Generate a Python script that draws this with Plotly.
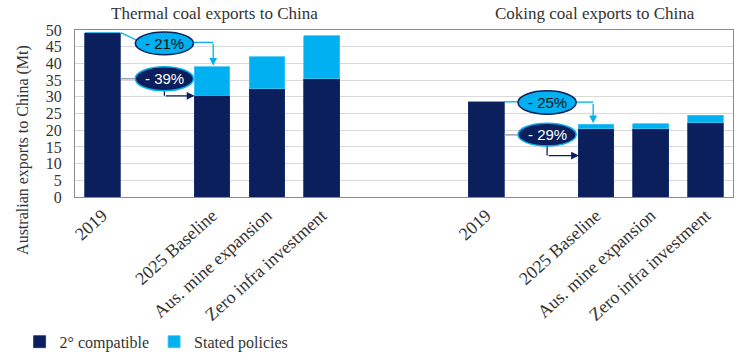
import plotly.graph_objects as go

# ---- data ----
categories = ["2019", "2025 Baseline", "Aus. mine expansion", "Zero infra investment"]
thermal_2deg = [49.2, 30.4, 32.4, 35.4]
thermal_stated = [0.0, 8.6, 9.6, 12.9]
coking_2deg = [28.6, 20.4, 20.4, 22.2]
coking_stated = [0.0, 1.4, 1.6, 2.3]
panel_titles = ["Thermal coal exports to China", "Coking coal exports to China"]
callouts = ["- 21%", "- 39%", "- 25%", "- 29%"]

# slot positions on the shared category axis (gaps between groups)
thermal_x = [0, 2, 3, 4]
coking_x = [7, 9, 10, 11]

NAVY = "#0B1F5C"
LIGHT = "#00B0F0"
SERIF = "Liberation Serif, serif"
TXT = "#333333"

fig = go.Figure()
fig.add_trace(go.Bar(x=thermal_x + coking_x, y=thermal_2deg + coking_2deg,
                     name="2° compatible", marker=dict(color=NAVY, line=dict(color="#1a3070", width=0.8)),
                     width=0.65))
fig.add_trace(go.Bar(x=thermal_x + coking_x, y=thermal_stated + coking_stated,
                     name="Stated policies", marker=dict(color=LIGHT, line=dict(color="#40c4f4", width=0.8)),
                     width=0.65))

fig.update_layout(
    barmode="stack",
    width=754, height=356,
    margin=dict(l=75, r=21, t=30, b=159, autoexpand=False),
    paper_bgcolor="white", plot_bgcolor="white",
    font=dict(family=SERIF, size=16, color=TXT),
    showlegend=True,
    legend=dict(orientation="h", xref="container", yref="container",
                x=0.026, y=0.04, xanchor="left", yanchor="middle",
                font=dict(family=SERIF, size=16, color=TXT), itemwidth=30,
                traceorder="normal", bgcolor="rgba(0,0,0,0)"),
    xaxis=dict(range=[-0.5, 11.5], tickmode="array",
               tickvals=thermal_x + coking_x, ticktext=categories + categories,
               tickangle=-42, tickfont=dict(family=SERIF, size=18, color=TXT),
               showgrid=False, showline=True, linecolor="#8c8c8c", mirror=True, ticks="",
               automargin=False),
    yaxis=dict(range=[0, 50], dtick=5, tickfont=dict(family=SERIF, size=16, color=TXT),
               ticklabelstandoff=9,
               showgrid=True, gridcolor="#d9d9d9", gridwidth=1,
               showline=True, linecolor="#8c8c8c", mirror=True, ticks="", zeroline=False,
               automargin=False),
)

# y axis title
fig.add_annotation(text="Australian exports to China (Mt)", xref="paper", yref="paper",
                   x=-0.078, y=0.28, textangle=-90, showarrow=False,
                   font=dict(family=SERIF, size=16, color=TXT), xanchor="center", yanchor="middle")

# panel titles
for xc, t in zip([2.04, 8.99], panel_titles):
    fig.add_annotation(text=t, x=xc, xref="x", y=1.10, yref="paper", showarrow=False,
                       font=dict(family=SERIF, size=17, color=TXT), xanchor="center", yanchor="middle")

def ellipse(x0, x1, y0, y1, fill, outline, text, tcolor):
    fig.add_shape(type="circle", xref="x", yref="y", x0=x0, x1=x1, y0=y0, y1=y1,
                  fillcolor=fill, line=dict(color=outline, width=1.5), layer="above")
    fig.add_annotation(text=text, x=(x0 + x1) / 2, y=(y0 + y1) / 2, showarrow=False,
                       font=dict(family="Liberation Sans", size=15, color=tcolor))

def line(pts, color, width=1.3):
    path = "M " + " L ".join(f"{x},{y}" for x, y in pts)
    fig.add_shape(type="path", path=path, xref="x", yref="y",
                  line=dict(color=color, width=width), layer="above")

def arrow(x0, y0, x1, y1, color):
    fig.add_annotation(x=x1, y=y1, ax=x0, ay=y0, xref="x", yref="y", axref="x", ayref="y",
                       text="", showarrow=True, arrowhead=2, arrowsize=1.2, arrowwidth=1.3,
                       arrowcolor=color)

# Thermal callouts
line([(0.333, 49.2), (0.62, 47.0)], LIGHT)
line([(1.64, 46.3), (2.02, 46.3)], LIGHT)
arrow(2.02, 46.3, 2.02, 39.3, LIGHT)
ellipse(0.60, 1.66, 42.6, 49.4, LIGHT, NAVY, callouts[0], "#111111")

line([(0.333, 35.4), (0.62, 35.4)], "#8a96a8")
line([(1.13, 32.0), (1.13, 30.3)], NAVY)
arrow(1.13, 30.3, 1.68, 30.3, NAVY)
ellipse(0.60, 1.66, 31.8, 39.0, NAVY, LIGHT, callouts[1], "white")

# Coking callouts
line([(7.325, 28.5), (7.60, 28.5)], LIGHT)
line([(8.62, 28.4), (8.95, 28.4)], LIGHT)
arrow(8.95, 28.4, 8.95, 22.1, LIGHT)
ellipse(7.58, 8.64, 24.8, 31.8, LIGHT, NAVY, callouts[2], "#111111")

line([(7.325, 18.6), (7.60, 18.6)], "#8a96a8")
line([(8.11, 15.5), (8.11, 12.4)], NAVY)
arrow(8.11, 12.4, 8.69, 12.4, NAVY)
ellipse(7.58, 8.64, 15.3, 22.1, NAVY, LIGHT, callouts[3], "white")

fig.write_html("out.html", config={"displayModeBar": False},
               post_script="document.body.style.margin='0px';")
